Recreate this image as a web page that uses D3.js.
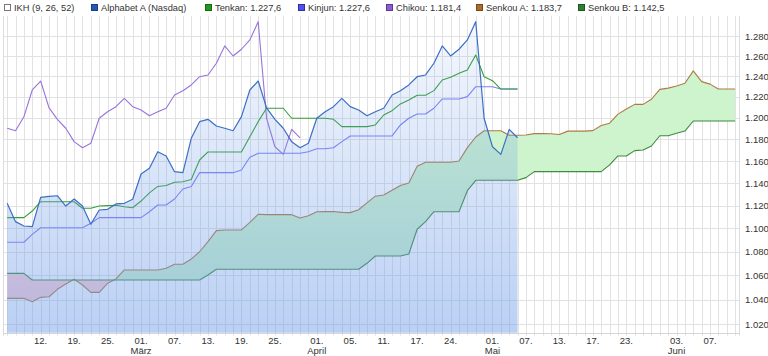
<!DOCTYPE html>
<html><head><meta charset="utf-8">
<script src="https://cdn.jsdelivr.net/npm/d3@7"></script>
<style>
body{margin:0;background:#fff;}
svg text{font-family:"Liberation Sans",Arial,sans-serif;fill:#333;}
</style></head><body>
<svg id="c" width="768" height="356"></svg>
<script>
// ---------- data ----------
const firstDay = "2019-02-06";
const holidays = ["2019-02-18","2019-04-19","2019-05-27"];
const alphabet = [1122.0,1105.9,1102.1,1101.5,1127.3,1128.2,1128.7,1119.6,1125.8,1119.6,1103.6,1116.1,1116.7,1121.4,1122.0,1125.6,1148.2,1153.4,1168.5,1164.6,1150.3,1149.4,1180.9,1196.5,1198.7,1192.4,1190.3,1188.0,1201.2,1226.7,1235.4,1209.5,1198.7,1190.3,1177.8,1172.2,1176.3,1199.7,1205.9,1210.7,1218.7,1210.7,1207.5,1202.1,1205.9,1209.2,1221.9,1226.0,1231.6,1239.6,1241.3,1252.8,1270.0,1260.0,1266.7,1276.0,1294.5,1199.7,1173.1,1166.1,1189.3,1181.4];
const tenkan = [1109.4,1109.4,1109.4,1115.2,1123.4,1123.4,1123.4,1123.4,1123.4,1117.6,1117.6,1119.6,1119.9,1120.3,1119.0,1118.1,1124.0,1131.2,1137.0,1137.9,1140.8,1141.2,1143.2,1160.9,1168.3,1168.3,1168.3,1168.3,1168.3,1182.4,1196.5,1209.2,1209.2,1209.2,1199.7,1199.7,1199.7,1199.7,1199.7,1198.7,1191.8,1191.8,1191.8,1191.8,1193.4,1202.8,1206.9,1213.3,1217.1,1221.6,1221.6,1226.1,1236.4,1239.1,1243.0,1246.2,1261.0,1239.6,1235.7,1227.6,1227.6,1227.6];
const kinjun = [1088.1,1088.1,1088.1,1094.9,1100.6,1100.6,1100.6,1100.6,1100.6,1100.6,1104.5,1109.4,1109.4,1109.4,1109.4,1109.4,1109.4,1114.6,1120.5,1120.5,1125.8,1134.7,1137.0,1149.4,1149.4,1149.4,1149.4,1149.4,1151.8,1163.4,1167.1,1167.1,1167.1,1167.1,1167.1,1167.1,1168.5,1171.3,1171.3,1172.2,1177.8,1183.1,1183.1,1183.1,1183.1,1183.1,1183.1,1193.4,1199.7,1203.8,1203.8,1209.2,1218.1,1218.1,1218.1,1220.3,1229.9,1229.9,1229.9,1227.6,1227.6,1227.6];
const chikou = [1190.3,1188.0,1201.2,1226.7,1235.4,1209.5,1198.7,1190.3,1177.8,1172.2,1176.3,1199.7,1205.9,1210.7,1218.7,1210.7,1207.5,1202.1,1205.9,1209.2,1221.9,1226.0,1231.6,1239.6,1241.3,1252.8,1270.0,1260.0,1266.7,1276.0,1294.5,1199.7,1173.1,1166.1,1189.3,1181.4];
const senkouA = [1041.1,1041.1,1041.1,1038.3,1041.9,1042.4,1048.5,1052.9,1056.8,1052.1,1046.0,1046.0,1053.5,1057.1,1064.6,1064.6,1064.6,1064.6,1064.6,1066.0,1069.4,1069.4,1073.8,1080.0,1088.6,1098.1,1098.7,1098.7,1098.7,1105.3,1112.3,1112.0,1112.0,1112.0,1112.0,1109.0,1111.0,1114.6,1114.7,1114.8,1114.0,1113.8,1116.3,1122.4,1128.3,1129.3,1133.5,1137.9,1140.0,1155.3,1158.8,1158.8,1158.8,1158.8,1160.0,1172.3,1182.1,1188.0,1188.0,1188.0,1183.7,1183.7,1184.0,1185.3,1185.3,1185.2,1184.4,1187.6,1187.6,1187.6,1188.1,1192.8,1195.0,1203.6,1208.5,1212.9,1212.9,1217.8,1227.3,1228.5,1230.6,1233.2,1245.3,1234.8,1232.4,1227.6,1227.6,1227.6];
const senkouB = [1061.8,1061.8,1061.8,1056.2,1056.2,1056.2,1056.2,1056.2,1056.2,1056.2,1056.2,1056.2,1056.2,1056.2,1056.2,1056.2,1056.2,1056.2,1056.2,1056.2,1056.2,1056.2,1056.2,1056.2,1060.4,1065.2,1065.2,1065.2,1065.2,1065.2,1065.2,1065.2,1065.2,1065.2,1065.2,1065.2,1065.2,1065.2,1065.2,1065.2,1065.2,1065.2,1065.2,1070.2,1076.4,1076.4,1076.4,1076.4,1078.1,1099.3,1105.9,1114.6,1114.6,1114.6,1114.6,1133.2,1142.5,1142.5,1142.5,1142.5,1142.5,1142.5,1144.9,1150.3,1150.3,1150.3,1150.3,1150.3,1150.3,1150.3,1150.3,1150.3,1156.4,1164.6,1164.6,1169.5,1170.1,1173.8,1183.3,1183.3,1185.6,1187.7,1197.1,1197.1,1197.1,1197.1,1197.1,1197.1];
const yTicks = [1020,1040,1060,1080,1100,1120,1140,1160,1180,1200,1220,1240,1260,1280];
const xTickDates = ["2019-02-12","2019-02-19","2019-02-25","2019-03-01","2019-03-07","2019-03-13","2019-03-19","2019-03-25","2019-04-01","2019-04-05","2019-04-11","2019-04-17","2019-04-24","2019-05-01","2019-05-07","2019-05-13","2019-05-17","2019-05-23","2019-06-03","2019-06-07"];
const monthDates = ["2019-03-01","2019-04-01","2019-05-01","2019-06-03"];
const monthNames = ["März","April","Mai","Juni"];
const legendItems = [
  {name:"IKH (9, 26, 52)", fill:"#ffffff", stroke:"#777"},
  {name:"Alphabet A (Nasdaq)", fill:"#2458b8", stroke:"#1a3f85"},
  {name:"Tenkan: ", value:tenkan[tenkan.length-1], fill:"#1e9a1e", stroke:"#146814"},
  {name:"Kinjun: ", value:kinjun[kinjun.length-1], fill:"#5050f0", stroke:"#3030a0"},
  {name:"Chikou: ", value:chikou[chikou.length-1], fill:"#8b5cd6", stroke:"#5c3a94"},
  {name:"Senkou A: ", value:senkouA[alphabet.length-1], fill:"#b06a26", stroke:"#7a4818"},
  {name:"Senkou B: ", value:senkouB[alphabet.length-1], fill:"#2f7f2f", stroke:"#1e561e"}
];

// ---------- trading calendar ----------
const days = [];
{
  let d = new Date(firstDay + "T00:00:00Z");
  while (days.length < senkouA.length) {
    const iso = d.toISOString().slice(0,10);
    const wd = d.getUTCDay();
    if (wd !== 0 && wd !== 6 && !holidays.includes(iso)) days.push(iso);
    d = new Date(d.getTime() + 86400000);
  }
}
const idx = s => days.indexOf(s);

// ---------- scales ----------
const de = d3.formatLocale({decimal:",", thousands:".", grouping:[3], currency:["","€"]});
const fmtTick = de.format(",.0f"), fmtVal = de.format(",.1f");
const L = 3, R = 739.3, T = 16, B = 332.7;
const x = d3.scaleLinear().domain([-0.5, senkouA.length - 0.5]).range([L, R]);
const y = d3.scaleLog().domain([1013.3, 1300.3]).range([B, T]);

const svg = d3.select("#c");
const defs = svg.append("defs");
const grad = defs.append("linearGradient").attr("id","pg")
  .attr("gradientUnits","userSpaceOnUse").attr("x1",0).attr("x2",0).attr("y1",T).attr("y2",B);
grad.append("stop").attr("offset",0).attr("stop-color","#6f9ce8").attr("stop-opacity",0.06);
grad.append("stop").attr("offset",1).attr("stop-color","#6f9ce8").attr("stop-opacity",0.48);

// grid
const grid = svg.append("g");
grid.selectAll("line.v").data(d3.range(senkouA.length)).join("line")
  .attr("x1", i => Math.round(x(i)) + 0.5).attr("x2", i => Math.round(x(i)) + 0.5)
  .attr("y1", T).attr("y2", B + 3).attr("stroke","#e2e2e2");
grid.selectAll("line.h").data(yTicks).join("line")
  .attr("x1", L).attr("x2", R).attr("y1", d => Math.round(y(d)) + 0.5).attr("y2", d => Math.round(y(d)) + 0.5)
  .attr("stroke","#e2e2e2");
[L, R].forEach(px => grid.append("line").attr("x1", Math.round(px)+0.5).attr("x2", Math.round(px)+0.5)
  .attr("y1", T).attr("y2", B + 3).attr("stroke","#dcdcdc"));
grid.append("line").attr("x1", L).attr("x2", R).attr("y1", Math.round(B)+0.5).attr("y2", Math.round(B)+0.5).attr("stroke","#d6d6d6");

// cloud
const cloudIdx = d3.range(senkouA.length);
const bandArea = d3.area().x(i => x(i)).y0(i => y(senkouB[i])).y1(i => y(senkouA[i]));
defs.append("clipPath").attr("id","aboveB").append("path")
  .attr("d", d3.area().x(i => x(i)).y0(i => y(senkouB[i])).y1(0)(cloudIdx));
defs.append("clipPath").attr("id","belowB").append("path")
  .attr("d", d3.area().x(i => x(i)).y0(i => y(senkouB[i])).y1(356)(cloudIdx));
svg.append("path").attr("d", bandArea(cloudIdx)).attr("fill","#cdf4cd").attr("clip-path","url(#aboveB)");
svg.append("path").attr("d", bandArea(cloudIdx)).attr("fill","#ffd0d4").attr("clip-path","url(#belowB)");

const line = arr => d3.line().x((d,i) => x(i)).y(d => y(d))(arr);
const addLine = (arr, color, w) => svg.append("path").attr("d", line(arr)).attr("fill","none")
  .attr("stroke", color).attr("stroke-width", w).attr("stroke-linejoin","round");
addLine(senkouA, "#b07a45", 1.1);
addLine(senkouB, "#3f8a3f", 1.1);
addLine(chikou, "#9a72dc", 1.1);
addLine(kinjun, "#7d7dfa", 1.1);
addLine(tenkan, "#32a032", 1.1);

// price area + line
svg.append("path").attr("d", d3.area().x((d,i) => x(i)).y0(B).y1(d => y(d))(alphabet))
  .attr("fill","url(#pg)");
addLine(alphabet, "#3c6ec6", 1.2);

// axes
const xa = svg.append("g");
xa.selectAll("text.t").data(xTickDates).join("text")
  .attr("x", d => x(idx(d))).attr("y", 344).attr("text-anchor","middle").attr("font-size", 9.5)
  .text(d => d.slice(8,10) + ".");
xa.selectAll("text.m").data(monthDates).join("text")
  .attr("x", d => x(idx(d))).attr("y", 354).attr("text-anchor","middle").attr("font-size", 9.5)
  .text((d,i) => monthNames[i]);
const ya = svg.append("g").attr("transform","translate(745,0)")
  .call(d3.axisRight(y).tickValues(yTicks).tickSize(0).tickPadding(0).tickFormat(fmtTick));
ya.select(".domain").remove();
ya.selectAll("text").attr("font-size", 9.5).attr("fill","#333").style("font-family",'"Liberation Sans",Arial,sans-serif');

// legend
const lg = svg.append("g");
const legX = [4, 91, 205, 298, 386, 476, 578];
legendItems.forEach((it, k) => {
  const g = lg.append("g").attr("transform", `translate(${legX[k]},0)`);
  g.append("rect").attr("x",0.5).attr("y",4.5).attr("width",6).attr("height",6)
    .attr("fill", it.fill).attr("stroke", it.stroke);
  g.append("text").attr("x", 10).attr("y", 11).attr("font-size", 9.3)
    .text(it.name + (it.value !== undefined ? fmtVal(it.value) : ""));
});
</script>
</body></html>
